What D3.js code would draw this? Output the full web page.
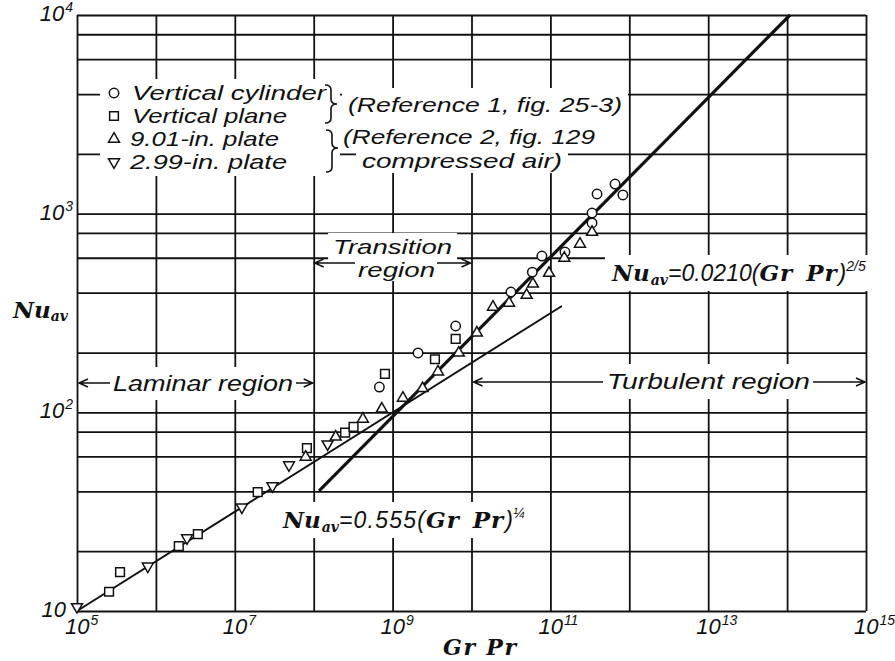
<!DOCTYPE html>
<html>
<head>
<meta charset="utf-8">
<script src="https://cdn.jsdelivr.net/npm/d3@7"></script>
<style>
  body { margin: 0; background: #fff; }
  .draft { font-family: "Liberation Sans", Arial, sans-serif; font-style: italic; fill: #111; }
  .heavy { font-family: "DejaVu Serif", serif; font-weight: bold; font-style: italic; fill: #111; }
  .grid line { stroke: #111; stroke-width: 1.8; }
  .grid path { display: none; }
</style>
</head>
<body>
<svg id="chart" width="895" height="661"></svg>
<script>
// Gr Pr vs Nu_av
const cylinder = [
  [6.8e8, 134], [2.1e9, 199], [6.3e9, 272], [3.16e10, 403], [5.9e10, 508],
  [7.8e10, 612], [1.53e11, 641], [3.37e11, 898], [3.37e11, 1007],
  [3.9e11, 1256], [6.6e11, 1410], [8.3e11, 1242]
];
const plane = [
  [2.55e5, 12.5], [3.51e5, 15.7], [1.95e6, 21.2], [3.4e6, 24.4], [1.95e7, 39.7],
  [8.2e7, 66], [2.5e8, 79], [3.2e8, 84.4], [8.0e8, 156], [3.44e9, 185], [6.3e9, 234]
];
const plate901 = [
  [7.9e7, 59.6], [1.9e8, 75.2], [4.2e8, 92.5], [7.3e8, 104], [1.35e9, 118],
  [2.4e9, 132], [3.76e9, 160], [6.9e9, 199], [1.17e10, 251], [1.87e10, 339],
  [2.99e10, 355], [5.0e10, 389], [6.0e10, 443], [9.6e10, 502], [1.5e11, 598],
  [2.37e11, 703], [3.37e11, 807]
];
const plate299 = [
  [1e5, 10.5], [7.9e5, 16.8], [2.48e6, 23.3], [1.23e7, 33.3], [3.0e7, 42.6],
  [4.86e7, 54.3], [1.5e8, 69.2]
];

// correlation lines (end points as drawn)
const laminarLine = [[1e5, 10], [1.4e11, 343]];
const turbulentLine = [[1.17e8, 40.2], [1.09e14, 1e4]];

// grid and tick labels
const xGridValues = d3.range(5, 16).map((e) => Math.pow(10, e));
const yGridValues = [10, 20, 40, 60, 80, 100, 200, 400, 600, 800, 1000, 2000, 4000, 6000, 8000, 10000];
const xLabelExps = [5, 7, 9, 11, 13, 15];
const yLabelExps = [1, 2, 3, 4];

const legendItems = [
  { name: "Vertical cylinder", symbol: "circle" },
  { name: "Vertical plane", symbol: "square" },
  { name: "9.01-in. plate", symbol: "up" },
  { name: "2.99-in. plate", symbol: "down" },
];

const margin = { top: 15, right: 29, bottom: 50, left: 77 },
  width = 895,
  height = 661,
  innerWidth = width - margin.left - margin.right,
  innerHeight = height - margin.top - margin.bottom;

const svg = d3.select("#chart");

const x = d3.scaleLog().domain([1e5, 1e15]).range([margin.left, margin.left + innerWidth]);
const y = d3.scaleLog().domain([10, 1e4]).range([margin.top + innerHeight, margin.top]);

// grid lines via axes
svg.append("g")
  .attr("class", "grid")
  .attr("transform", `translate(0,${margin.top + innerHeight})`)
  .call(d3.axisBottom(x).tickValues(xGridValues).tickSize(-innerHeight).tickFormat(""));

svg.append("g")
  .attr("class", "grid")
  .attr("transform", `translate(${margin.left},0)`)
  .call(d3.axisLeft(y).tickValues(yGridValues).tickSize(-innerWidth).tickFormat(""));

const maskLayer = svg.append("g");
const lineLayer = svg.append("g");
const markLayer = svg.append("g");
const textLayer = svg.append("g");

// white patch behind a text so grid lines break around it
function mask(node, padX = 6, padY = 6) {
  const b = node.getBBox();
  maskLayer.append("rect")
    .attr("x", b.x - padX).attr("y", b.y - padY)
    .attr("width", b.width + 2 * padX).attr("height", b.height + 2 * padY)
    .attr("fill", "#fff");
}

function label(str, px, py, size, len, anchor = "start") {
  const t = textLayer.append("text")
    .attr("class", "draft")
    .attr("x", px).attr("y", py)
    .attr("font-size", size)
    .attr("text-anchor", anchor)
    .text(str);
  if (len) t.attr("textLength", len).attr("lengthAdjust", "spacingAndGlyphs");
  return t;
}

// tick labels
xLabelExps.forEach((e) => {
  const t = textLayer.append("text").attr("class", "draft")
    .attr("x", x(Math.pow(10, e)) - 12).attr("y", 634).attr("font-size", 22);
  t.append("tspan").text("10");
  t.append("tspan").attr("font-size", 14).attr("dy", -9).attr("dx", 1).text(e);
});
yLabelExps.forEach((e) => {
  const t = textLayer.append("text").attr("class", "draft")
    .attr("x", e === 1 ? 66 : 73).attr("y", y(Math.pow(10, e)) + 6)
    .attr("font-size", 22).attr("text-anchor", "end");
  t.append("tspan").text("10");
  if (e > 1) t.append("tspan").attr("font-size", 14).attr("dy", -9).attr("dx", 1).text(e);
});

// axis titles
const yt = textLayer.append("text").attr("class", "heavy").attr("x", 13).attr("y", 318).attr("font-size", 23);
yt.append("tspan").text("Nu");
yt.append("tspan").attr("font-size", 14).attr("dy", 3).text("av");
textLayer.append("text").attr("class", "heavy")
  .attr("x", 443).attr("y", 655).attr("font-size", 22)
  .attr("textLength", 73).attr("lengthAdjust", "spacing")
  .text("Gr Pr");

// correlation lines
const line = d3.line().x((d) => x(d[0])).y((d) => y(d[1]));
lineLayer.append("path").datum(laminarLine)
  .attr("d", line).attr("fill", "none").attr("stroke", "#111").attr("stroke-width", 2);
lineLayer.append("path").datum(turbulentLine)
  .attr("d", line).attr("fill", "none").attr("stroke", "#111").attr("stroke-width", 3.2);

// markers
const symbolPath = {
  circle: d3.symbol().type(d3.symbolCircle).size(70)(),
  square: d3.symbol().type(d3.symbolSquare).size(76)(),
  up: d3.symbol().type(d3.symbolTriangle).size(52)(),
  down: d3.symbol().type(d3.symbolTriangle).size(52)(),
};
function drawSeries(data, kind) {
  markLayer.selectAll(".m-" + kind)
    .data(data)
    .enter()
    .append("path")
    .attr("class", "m-" + kind)
    .attr("d", symbolPath[kind])
    .attr("transform", (d) => `translate(${x(d[0])},${y(d[1])})${kind === "down" ? " rotate(180)" : ""}`)
    .attr("fill", "#fff")
    .attr("stroke", "#111")
    .attr("stroke-width", 1.5);
}
drawSeries(cylinder, "circle");
drawSeries(plane, "square");
drawSeries(plate901, "up");
drawSeries(plate299, "down");

// legend
maskLayer.append("rect").attr("x", 100).attr("y", 79).attr("width", 240).attr("height", 97).attr("fill", "#fff");
legendItems.forEach((d, i) => {
  const cy = 93 + i * 23;
  textLayer.append("path")
    .attr("d", symbolPath[d.symbol])
    .attr("transform", `translate(114,${cy})${d.symbol === "down" ? " rotate(180)" : ""}`)
    .attr("fill", "#fff").attr("stroke", "#111").attr("stroke-width", 1.5);
});
const legendLen = [194, 155, 149, 157];
legendItems.forEach((d, i) => {
  label(d.name, i < 2 ? 132 : 130, 100 + i * 23, 21, legendLen[i]);
});

function brace(bx, y0, y1, ym) {
  const w = 6, r = 5;
  const p = `M${bx - w},${y0} Q${bx},${y0} ${bx},${y0 + r} L${bx},${ym - r} Q${bx},${ym} ${bx + w},${ym}` +
    ` Q${bx},${ym} ${bx},${ym + r} L${bx},${y1 - r} Q${bx},${y1} ${bx - w},${y1}`;
  textLayer.append("path").attr("d", p).attr("fill", "none").attr("stroke", "#111").attr("stroke-width", 1.6);
}
brace(331, 85, 123, 104);
brace(332, 130, 172, 148);

mask(label("(Reference 1, fig. 25-3)", 348, 112, 21, 274).node(), 6, 5);
mask(label("(Reference 2, fig. 129", 343, 144, 21, 252).node(), 6, 4);
mask(label("compressed air)", 362, 168, 21, 200).node(), 6, 1);

// region annotations
function arrow(x1, x2, yy) {
  const dir = Math.sign(x2 - x1);
  textLayer.append("path")
    .attr("d", `M${x1},${yy} L${x2},${yy} M${x2 - dir * 9},${yy - 4} L${x2},${yy} L${x2 - dir * 9},${yy + 4}`)
    .attr("fill", "none").attr("stroke", "#111").attr("stroke-width", 1.5);
}

mask(label("Transition", x(1e9), 254, 21, 119, "middle").node(), 5, 2);
mask(label("region", x(1e9) + 4, 277, 21, 77, "middle").node(), 5, 0);
arrow(355, x(1e8) + 1, 263);
arrow(437, x(1e10) - 1, 263);

mask(label("Laminar region", 113, 391, 22, 180).node(), 3, 4);
arrow(110, x(1e5) + 2, 383);
arrow(296, x(1e8) - 1, 383);

mask(label("Turbulent region", 607, 389, 22, 203).node(), 4, 5);
arrow(603, x(1e10) + 2, 382);
arrow(813, x(1e15) - 1, 382);

// equations
function equation(px, py, coef, expo, spacing) {
  const t = textLayer.append("text").attr("x", px).attr("y", py);
  t.append("tspan").attr("class", "heavy").attr("font-size", 23).text("Nu");
  t.append("tspan").attr("class", "heavy").attr("font-size", 14).attr("dy", 4).attr("dx", 1).text("av");
  t.append("tspan").attr("class", "draft").attr("font-size", 23).attr("dy", -4)
    .attr("letter-spacing", spacing).text("=" + coef + "(");
  t.append("tspan").attr("class", "heavy").attr("font-size", 23).attr("letter-spacing", 1).text("Gr");
  t.append("tspan").attr("class", "heavy").attr("font-size", 23).attr("dx", 13).attr("letter-spacing", 1).text("Pr");
  t.append("tspan").attr("class", "draft").attr("font-size", 23).attr("dx", 1).text(")");
  t.append("tspan").attr("class", "draft").attr("font-size", 14).attr("dy", -10).text(expo);
  mask(t.node(), 6, 3);
}
equation(612, 281, "0.0210", "2/5", 0);
equation(283, 528, "0.555", "\u00bc", 1.2);
</script>
</body>
</html>
